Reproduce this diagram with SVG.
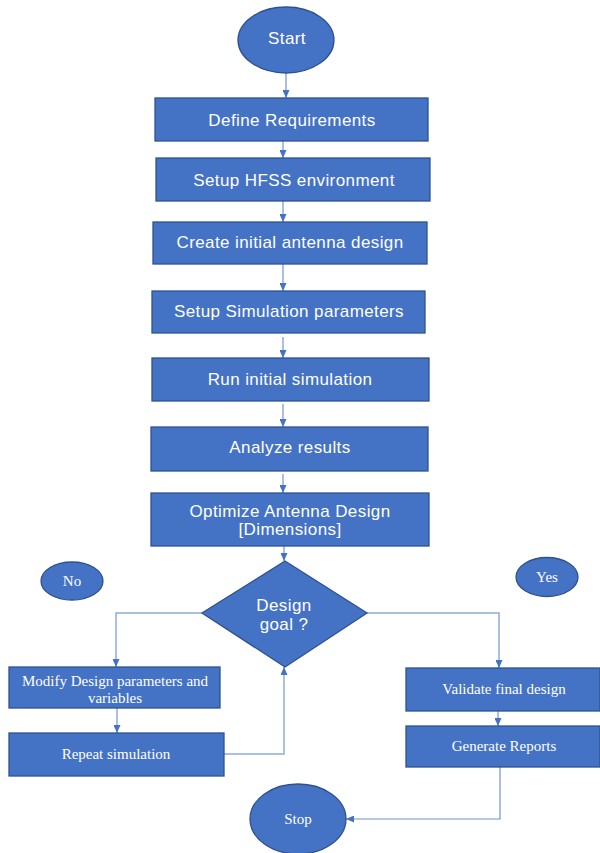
<svg xmlns="http://www.w3.org/2000/svg" width="600" height="853" viewBox="0 0 600 853">
<style>
.n{fill:#4472C4;stroke:#2F528F;stroke-width:1.3}
.t{fill:#fff;font-family:"Liberation Sans",Arial,sans-serif;font-size:17px;letter-spacing:0.4px;text-anchor:middle}
.s{fill:#fff;font-family:"Liberation Serif","Times New Roman",serif;font-size:15px;text-anchor:middle}
.c{fill:none;stroke:#8FAADC;stroke-width:1.5;marker-end:url(#a)}
</style>
<defs>
<marker id="a" markerUnits="userSpaceOnUse" markerWidth="9" markerHeight="7" refX="8" refY="3.5" orient="auto">
<path d="M0,0L8,3.5L0,7Z" fill="#4472C4"/>
</marker>
</defs>
<g id="connectors">
<path class="c" d="M286,73V98"/>
<path class="c" d="M283,141V158"/>
<path class="c" d="M283,201V222"/>
<path class="c" d="M283,264V291"/>
<path class="c" d="M283,337V358"/>
<path class="c" d="M283,404V427"/>
<path class="c" d="M283,474V493"/>
<path class="c" d="M284,546V561"/>
<path class="c" d="M202,613H116V667"/>
<path class="c" d="M117,708V733"/>
<path class="c" d="M224,754H284V667"/>
<path class="c" d="M367,613H499V668"/>
<path class="c" d="M498,711V726"/>
<path class="c" d="M500,767V819H346" style="stroke:#6F93D6;stroke-width:1.2"/>
</g>
<g id="start"><ellipse class="n" cx="286" cy="40" rx="48" ry="33"/><text class="t" x="287" y="44">Start</text></g>
<g id="define"><rect class="n" x="155" y="98" width="273" height="43"/><text class="t" x="292" y="126">Define Requirements</text></g>
<g id="hfss"><rect class="n" x="156" y="158" width="274" height="43"/><text class="t" x="294" y="186">Setup HFSS environment</text></g>
<g id="create"><rect class="n" x="153" y="222" width="274" height="42"/><text class="t" x="290" y="248">Create initial antenna design</text></g>
<g id="setupsim"><rect class="n" x="152" y="291" width="273" height="42"/><text class="t" x="289" y="317">Setup Simulation parameters</text></g>
<g id="run"><rect class="n" x="152" y="358" width="277" height="43"/><text class="t" x="290" y="385">Run initial simulation</text></g>
<g id="analyze"><rect class="n" x="151" y="427" width="277" height="44"/><text class="t" x="290" y="453">Analyze results</text></g>
<g id="optimize"><rect class="n" x="151" y="493" width="278" height="53"/><text class="t" x="290" y="517">Optimize Antenna Design</text><text class="t" x="290" y="535">[Dimensions]</text></g>
<g id="decision"><path class="n" d="M285,561L367,613L285,667L202,613Z"/><text class="t" x="284" y="611">Design</text><text class="t" x="284" y="630">goal ?</text></g>
<g id="no"><ellipse class="n" cx="72" cy="581" rx="31" ry="19"/><text class="s" x="72" y="586">No</text></g>
<g id="yes"><ellipse class="n" cx="547" cy="577" rx="31" ry="19.5"/><text class="s" x="547" y="582">Yes</text></g>
<g id="modify"><rect class="n" x="9" y="667" width="211" height="41"/><text class="s" x="115" y="686">Modify Design parameters and</text><text class="s" x="115" y="703">variables</text></g>
<g id="repeat"><rect class="n" x="9" y="733" width="215" height="43"/><text class="s" x="116" y="759">Repeat simulation</text></g>
<g id="validate"><rect class="n" x="406" y="668" width="194" height="43"/><text class="s" x="504" y="694">Validate final design</text></g>
<g id="generate"><rect class="n" x="406" y="726" width="194" height="41"/><text class="s" x="504" y="751">Generate Reports</text></g>
<g id="stop"><ellipse class="n" cx="298" cy="819" rx="48" ry="35"/><text class="s" x="298" y="824">Stop</text></g>
</svg>
